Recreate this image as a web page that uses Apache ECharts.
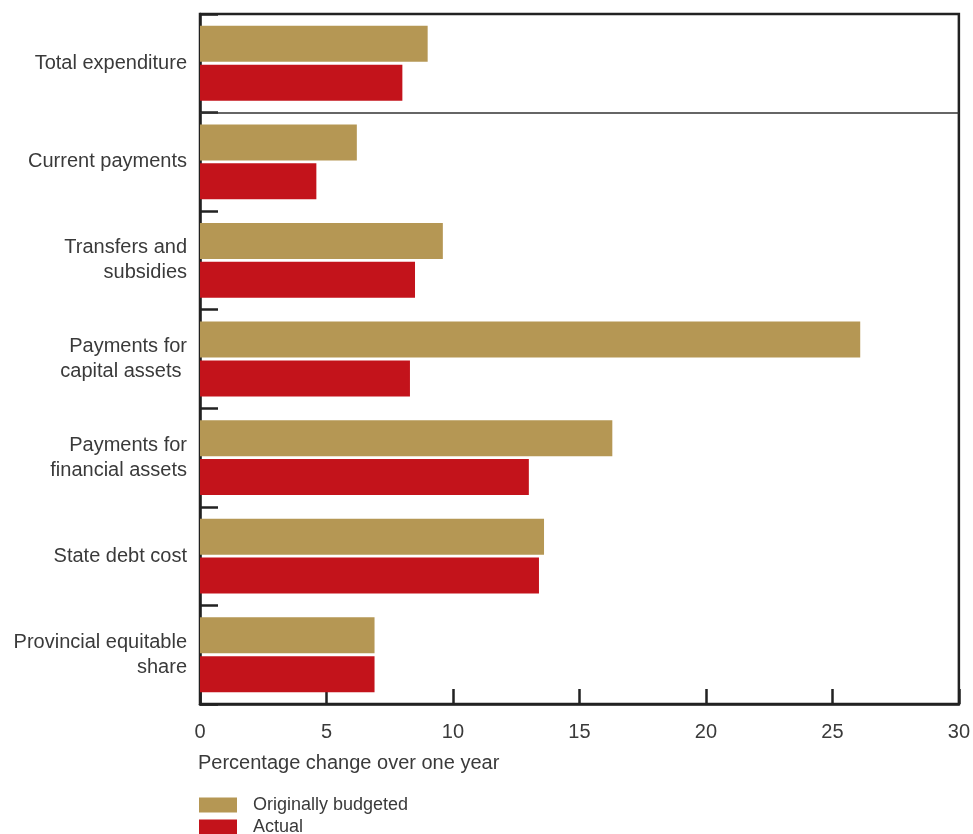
<!DOCTYPE html>
<html><head><meta charset="utf-8">
<script src="https://cdn.jsdelivr.net/npm/echarts@6/dist/echarts.min.js"></script>
<style>html,body{margin:0;padding:0;background:#fff}#c{width:973px;height:834px}</style>
</head><body><div id="c"></div>
<script>
const categories = ['Total expenditure','Current payments','Transfers and\nsubsidies','Payments for\ncapital assets ','Payments for\nfinancial assets','State debt cost','Provincial equitable\nshare'];
const budgeted = [9.0, 6.2, 9.6, 26.1, 16.3, 13.6, 6.9];
const actual = [8.0, 4.6, 8.5, 8.3, 13.0, 13.4, 6.9];
const xTicks = [0, 5, 10, 15, 20, 25, 30];
const seriesNames = ['Originally budgeted', 'Actual'];
const separatorAfter = 1; // horizontal rule below "Total expenditure"

const font = 'Liberation Sans, Arial, sans-serif';
const txt = '#3a3a3a';
const legendCommon = { orient: 'horizontal', left: 199, padding: 0, itemWidth: 38, itemHeight: 15,
  icon: 'rect', textStyle: { fontFamily: font, fontSize: 18, color: txt, padding: [0, 0, 0, 11] } };
const chart = echarts.init(document.getElementById('c'));
chart.setOption({
  animation: false,
  title: { text: 'Percentage change over one year', left: 193, top: 748,
    textStyle: { fontFamily: font, fontSize: 20, fontWeight: 'normal', color: txt } },
  legend: [
    Object.assign({ top: 796, data: [seriesNames[0]] }, legendCommon),
    Object.assign({ top: 818, data: [seriesNames[1]] }, legendCommon)
  ],
  grid: { left: 200, right: 14, top: 14, bottom: 130, show: true, borderColor: '#222', borderWidth: 2.5 },
  xAxis: { type: 'value', min: xTicks[0], max: xTicks[xTicks.length - 1], interval: 5,
    axisLine: { show: true, onZero: false, lineStyle: { color: '#222', width: 2.5 } },
    axisTick: { show: true, inside: true, length: 15, lineStyle: { color: '#222', width: 2.5 } },
    splitLine: { show: false },
    axisLabel: { fontFamily: font, fontSize: 20, color: txt, margin: 18 } },
  yAxis: [
    { type: 'category', inverse: true, data: categories,
      axisLine: { show: true, onZero: false, lineStyle: { color: '#222', width: 2.5 } },
      axisTick: { show: true, inside: true, length: 18, lineStyle: { color: '#222', width: 2.5 }, interval: 0 },
      splitLine: { show: false },
      axisLabel: { fontFamily: font, fontSize: 20, color: txt, margin: 13, lineHeight: 25, align: 'right' } },
    { type: 'value', inverse: true, min: 0, max: categories.length, show: false,
      axisLine: { onZero: false }, splitLine: { show: false } }
  ],
  series: [
    { name: seriesNames[0], type: 'bar', data: budgeted, barWidth: 36, barGap: '8%', itemStyle: { color: '#B59754' } },
    { name: seriesNames[1], type: 'bar', data: actual, barWidth: 36, barGap: '8%', itemStyle: { color: '#C3131B' } },
    { name: 'sep', type: 'line', yAxisIndex: 1, data: [], silent: true,
      markLine: { silent: true, symbol: ['none', 'none'], label: { show: false },
        lineStyle: { color: '#333', width: 1.5, type: 'solid' },
        data: [{ yAxis: separatorAfter }] } }
  ]
});
</script></body></html>
